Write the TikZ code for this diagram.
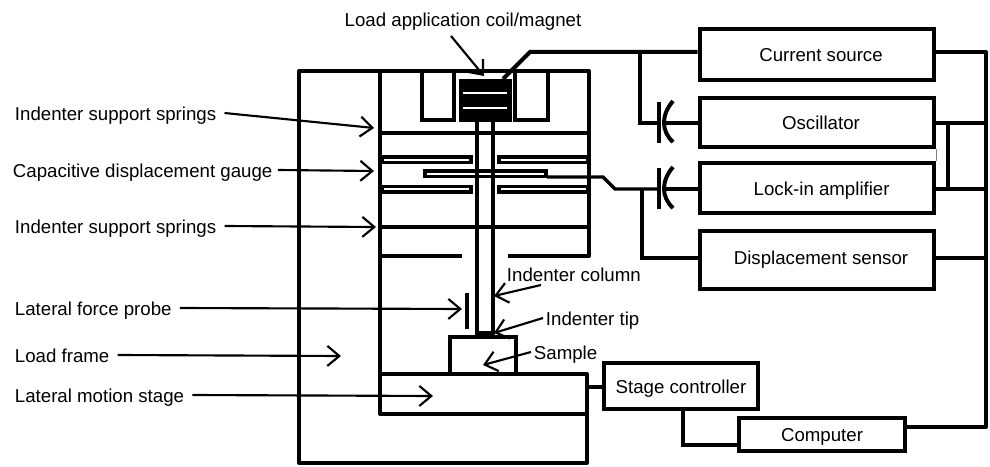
\documentclass[tikz,border=0pt]{standalone}
\usepackage{fontspec}
\setmainfont{Liberation Sans}
\usetikzlibrary{arrows.meta}
\tikzset{
  wire/.style={line width=3pt},
  plate/.style={line width=2.4pt, fill=white},
  pointer/.style={line width=1.6pt, -{Straight Barb[length=9pt, width=15pt, line width=1.6pt]}},
  unitbox/.style={draw, line width=3.2pt, font=\fontsize{14}{16}\selectfont, inner sep=0pt, text height=12pt, text depth=1pt},
  callout/.style={font=\fontsize{14}{16}\selectfont, inner sep=2pt, text height=12pt, text depth=1pt},
}

\begin{document}
\begin{tikzpicture}[x=0.75pt, y=-0.75pt]
        \useasboundingbox (0,0) rectangle (990,467);

        % load frame and stage
        \draw[wire, line join=round] (380,71) -- (299,71) -- (299,463) -- (587,463) -- (587,374) -- (380,374);
        \draw[wire, line join=round] (380,71) -- (589,71) -- (589,256) -- (508,256);
        \draw[wire, line join=round] (380,71) -- (380,414) -- (587,414);
        \draw[wire] (380,256) -- (462,256);

        % coil and magnet
        \draw[wire] (422,71) -- (422,120) -- (454,120) -- (454,71);
        \draw[wire] (515,71) -- (515,120) -- (548,120) -- (548,71);
        \fill (459,79) rectangle (512,122);
        \draw[white, line width=1pt] (463,93) -- (507,93);
        \draw[white, line width=1pt] (463,108) -- (507,108);

        % springs
        \draw[wire] (380,133) -- (589,133);
        \draw[wire] (380,227) -- (589,227);

        % gauge plates
        \draw[plate] (382,157) rectangle (471,162.5);
        \draw[plate] (499,157) rectangle (588,162.5);
        \draw[plate] (382,186.5) rectangle (471,192);
        \draw[plate] (499,186.5) rectangle (588,192);
        \draw[plate] (425,171) rectangle (546,176.5);

        % column and tip
        \draw[wire] (477,122) -- (477,333);
        \draw[wire] (493,122) -- (493,333);
        \fill (475,331) rectangle (495,338);
        \draw[wire] (467,293) -- (467,329);
        \draw[wire] (450,374) -- (450,337) -- (516,337) -- (516,374);

        % electronics
        \node[unitbox, minimum width=176pt, minimum height=38pt] (current) at (817,54.5) {\hspace*{6pt}Current source};
        \node[unitbox, minimum width=175pt, minimum height=37pt] (oscillator) at (817,122.5) {\hspace*{6pt}Oscillator};
        \node[unitbox, minimum width=175pt, minimum height=37pt] (lockin) at (817,188) {\hspace*{7pt}Lock-in amplifier};
        \node[unitbox, minimum width=176pt, minimum height=43pt] (sensor) at (817,260) {\hspace*{6pt}\raisebox{2pt}{Displacement sensor}};
        \node[unitbox, minimum width=115pt, minimum height=34pt] (controller) at (681,386) {Stage controller};
        \node[unitbox, minimum width=125pt, minimum height=25pt] (computer) at (822,434.5) {Computer};

        \coordinate (coilpin) at (503,79);
        \coordinate (coilknee) at (530,52);
        \coordinate (oscknee) at (640,123);
        \coordinate (capA) at (665,123);
        \coordinate (capB) at (665,189);
        \coordinate (gaugepin) at (547,177);
        \coordinate (gaugeknee) at (603,177);
        \coordinate (lockknee) at (615,189);
        \coordinate (sensorknee) at (642,258);
        \coordinate (busTop) at (986,52);
        \coordinate (busEnd) at (986,427);
        \coordinate (stagepin) at (587,387);
        \coordinate (ctrlknee) at (683,445);

        \draw[wire] (coilpin) -- (coilknee) -- (coilknee -| current.west);
        \draw[wire] (oscknee |- coilknee) -- (oscknee) -- (659,123);
        \draw[wire] (capA) -- (oscillator.west |- capA);
        \draw[line width=2.4pt] (gaugepin) -- (gaugeknee) -- (lockknee) -- (659,189);
        \draw[wire] (capB) -- (lockin.west |- capB);
        \draw[wire] (sensorknee |- capB) -- (sensorknee) -- (sensorknee -| sensor.west);
        \foreach \capy in {123,189} {
          \draw[line width=3.2pt] (659,\capy-21) -- (659,\capy+20);
          \draw[wire] (673,\capy-22) .. controls (661,\capy-8) and (661,\capy+8) .. (673,\capy+19);
        }

        \draw[wire, line join=round] (current.east |- busTop) -- (busTop) -- (busEnd) -- (busEnd -| computer.east);
        \draw[wire] (oscillator.east |- capA) -- (capA -| busEnd);
        \draw[wire] (lockin.east |- capB) -- (capB -| busEnd);
        \draw[wire] (sensorknee -| sensor.east) -- (sensorknee -| busEnd);
        \draw[wire] (948,123) -- (948,189);
        \draw[line width=0.4pt, gray] (oscillator.south east) -- (lockin.north east);
        \draw[wire] (stagepin) -- (stagepin -| controller.west);
        \draw[wire] (ctrlknee |- controller.south) -- (ctrlknee) -- (ctrlknee -| computer.west);

        % callouts
        \coordinate (tipcoil) at (484,76);
        \coordinate (tipspringA) at (374,128);
        \coordinate (tipgauge) at (374,171);
        \coordinate (tipspringB) at (376,227);
        \coordinate (tipprobe) at (462,309);
        \coordinate (tipframe) at (341,356);
        \coordinate (tipstage) at (433,396);
        \coordinate (tipcolumn) at (494,296);
        \coordinate (tiptip) at (494,333);
        \coordinate (tipsample) at (483,365);

        \node[callout] (coilL) at (463,19) {Load application coil/magnet};
        \node[callout, anchor=west] (springAL) at (12,113) {Indenter support springs};
        \node[callout, anchor=west] (gaugeL) at (10,170) {Capacitive displacement gauge};
        \node[callout, anchor=west] (springBL) at (12,226) {Indenter support springs};
        \node[callout, anchor=west] (probeL) at (12,308) {Lateral force probe};
        \node[callout, anchor=west] (frameL) at (12,355) {Load frame};
        \node[callout, anchor=west] (stageL) at (12,395) {Lateral motion stage};
        \node[callout, anchor=west] (columnL) at (504,274) {Indenter column};
        \node[callout, anchor=west] (tipL) at (543,318) {Indenter tip};
        \node[callout, anchor=west] (sampleL) at (531,352) {Sample};

        \draw[pointer] (451,36) -- (tipcoil);
        \draw[pointer] ([xshift=4pt]springAL.east) -- (tipspringA);
        \draw[pointer] ([xshift=2pt]gaugeL.east) -- (tipgauge);
        \draw[pointer] ([xshift=4pt]springBL.east) -- (tipspringB);
        \draw[pointer] ([xshift=4pt]probeL.east) -- (tipprobe);
        \draw[pointer] ([xshift=4pt]frameL.east) -- (tipframe);
        \draw[pointer] ([xshift=4pt]stageL.east) -- (tipstage);
        \draw[pointer] (541,285) -- (tipcolumn);
        \draw[pointer] (tipL.west) -- (tiptip);
        \draw[pointer] (sampleL.west) -- (tipsample);
      \end{tikzpicture}
\end{document}
